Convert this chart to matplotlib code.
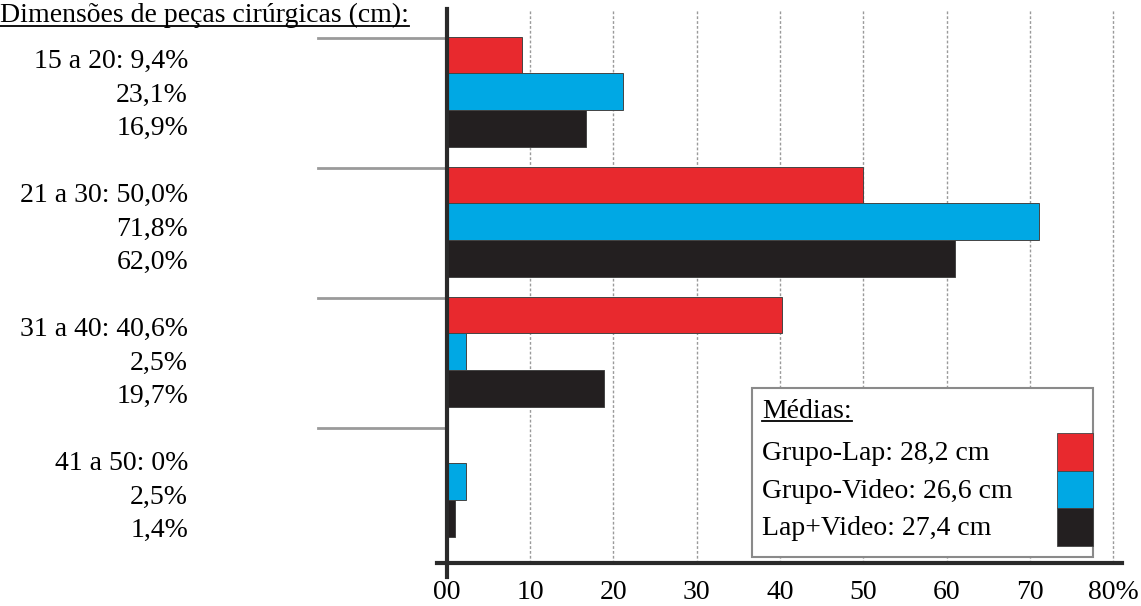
import matplotlib
matplotlib.use('Agg')
import matplotlib.pyplot as plt
from matplotlib.lines import Line2D
from matplotlib.patches import Rectangle

plt.rcParams['font.family'] = ['Liberation Serif', 'DejaVu Serif']

W, H = 1141, 606

# data
groups = ['15 a 20', '21 a 30', '31 a 40', '41 a 50']
lap = [9.0, 49.9, 40.2, 0.0]
video = [21.1, 71.1, 2.3, 2.3]
lapvideo = [16.7, 61.0, 18.9, 1.0]
lap_txt = ['9,4%', '50,0%', '40,6%', '0%']
video_txt = ['23,1%', '71,8%', '2,5%', '2,5%']
lapvideo_txt = ['16,9%', '62,0%', '19,7%', '1,4%']
xticks = [0, 10, 20, 30, 40, 50, 60, 70, 80]
xticklabels = ['00', '10', '20', '30', '40', '50', '60', '70', '80%']
medias = ['Grupo-Lap: 28,2 cm', 'Grupo-Video: 26,6 cm', 'Lap+Video: 27,4 cm']
colors = ['#e8292e', '#00a8e4', '#231f20']

fs = 20

def fx(px):
    return px / W

def fy(py):
    return 1 - py / H

fig = plt.figure(figsize=(W / 100, H / 100), dpi=100)
ax = fig.add_axes([fx(446.7), fy(563), fx(1121.7) - fx(446.7), fy(9) - fy(563)])
ax.set_xlim(0, 81)
ax.set_ylim(3.625, -0.636)

h = 0.282
series = [lap, video, lapvideo]
for k, vals in enumerate(series):
    ys = [g + (k - 1) * h for g in range(len(groups))]
    ax.barh(ys, vals, height=h, color=colors[k], edgecolor='#444444',
            linewidth=0.7, zorder=3)

# separators on the left
for g in range(len(groups)):
    ax.plot([-15.4, 0], [g - 1.5 * h + 0.012] * 2, color='#9a9a9a', lw=2,
            clip_on=False, zorder=2)

for s in ax.spines.values():
    s.set_visible(False)
ax.set_xticks(xticks)
ax.set_xticklabels(xticklabels, fontsize=fs)
ax.tick_params(axis='x', length=0, pad=12)
ax.set_yticks([])
ax.grid(axis='x', color='#9a9a9a', linestyle=(0, (2, 1.5)), lw=1, zorder=0)

# axes lines
ax.plot([0, 0], [-0.636, 3.625 + 14 / 130], color='#2a2a2a', lw=3,
        clip_on=False, zorder=4)
ax.plot([-1.15, 81], [3.625, 3.625], color='#2a2a2a', lw=3,
        clip_on=False, zorder=4)

# row labels
for g in range(len(groups)):
    lines = [groups[g] + ': ' + lap_txt[g], video_txt[g], lapvideo_txt[g]]
    for k, t in enumerate(lines):
        fig.text(fx(188), fy(68 + 134 * g + 33.5 * k), t, ha='right',
                 va='baseline', fontsize=fs)

# title
title = fig.text(fx(0), fy(22), 'Dimensões de peças cirúrgicas (cm):',
                 ha='left', va='baseline', fontsize=fs)

# legend box
fig.patches.append(Rectangle((fx(751.7), fy(557)), fx(1093) - fx(751.7),
                             fy(388) - fy(557), transform=fig.transFigure,
                             facecolor='white', edgecolor='#8a8a8a', lw=1.5,
                             zorder=5))
med = fig.text(fx(762), fy(418), 'Médias:', ha='left', va='baseline',
               fontsize=fs, zorder=6)
for k, t in enumerate(medias):
    fig.text(fx(762), fy(460 + 37.5 * k), t, ha='left', va='baseline',
             fontsize=fs, zorder=6)
    fig.patches.append(Rectangle((fx(1057), fy(433 + 37.5 * (k + 1))),
                                 fx(1093) - fx(1057), 37.5 / H,
                                 transform=fig.transFigure, facecolor=colors[k],
                                 edgecolor='#444444', lw=0.6, zorder=6))

# underlines
fig.canvas.draw()
r = fig.canvas.get_renderer()
for t, off in [(title, 3.5), (med, 3.0)]:
    bb = t.get_window_extent(r)
    x0, x1 = bb.x0, bb.x1
    yb = t.get_position()[1] * H - off
    fig.add_artist(Line2D([x0 / W, x1 / W], [yb / H, yb / H], color='black',
                          lw=1.3, transform=fig.transFigure, zorder=7))

fig.savefig('out.png', dpi=100)
